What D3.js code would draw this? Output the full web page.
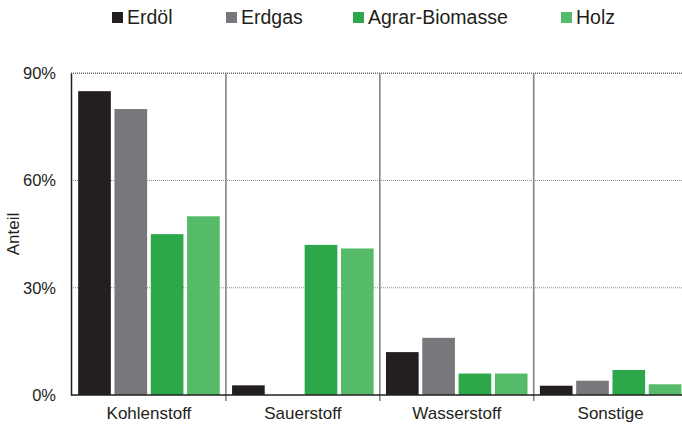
<!DOCTYPE html>
<html>
<head>
<meta charset="utf-8">
<script src="https://cdn.jsdelivr.net/npm/d3@7"></script>
<style>
  html, body { margin: 0; padding: 0; background: #fff; }
  svg { display: block; font-family: "Liberation Sans", Arial, sans-serif; }
</style>
</head>
<body>
<svg id="chart" width="682" height="425"></svg>
<script>
// Elemental composition of fuels (share by mass)
const categories = ["Kohlenstoff", "Sauerstoff", "Wasserstoff", "Sonstige"];
const seriesNames = ["Erdöl", "Erdgas", "Agrar-Biomasse", "Holz"];
const erdoel = [85, 2.7, 12, 2.6];
const erdgas = [80, 0, 16, 4];
const agrarBiomasse = [45, 42, 6, 7];
const holz = [50, 41, 6, 3];
const yTicks = [0, 30, 60, 90];
const yLabel = "Anteil";

const seriesValues = [erdoel, erdgas, agrarBiomasse, holz];
const colors = ["#231f20", "#77787b", "#2ca84a", "#55bb69"];

const svg = d3.select("#chart");

const plot = { left: 71, top: 73.3, bottom: 395, right: 682 };

const x0 = d3.scaleBand().domain(categories).range([72, 687.6]).padding(0);
const x1 = d3.scaleBand().domain(seriesNames).range([0, x0.bandwidth()])
  .paddingInner(0.1).paddingOuter(0.17);
const y = d3.scaleLinear().domain([0, 90]).range([plot.bottom, plot.top]);
const color = d3.scaleOrdinal().domain(seriesNames).range(colors);

// dotted gridlines
svg.append("g")
  .selectAll("line")
  .data(yTicks.filter(t => t > 0))
  .join("line")
  .attr("x1", plot.left).attr("x2", plot.right)
  .attr("y1", d => y(d)).attr("y2", d => y(d))
  .attr("stroke", d => d === 90 ? "#666" : "#8e8e8e")
  .attr("stroke-width", d => d === 90 ? 1.6 : 1)
  .attr("stroke-dasharray", "1,1");

// group separators
svg.append("g")
  .selectAll("line")
  .data(categories.slice(1))
  .join("line")
  .attr("x1", d => x0(d)).attr("x2", d => x0(d))
  .attr("y1", plot.top).attr("y2", plot.bottom + 6)
  .attr("stroke", "#858585")
  .attr("stroke-width", 1.6);

// bars
const rows = categories.map((c, i) => ({
  category: c,
  values: seriesNames.map((s, j) => ({ series: s, value: seriesValues[j][i] }))
}));

svg.append("g")
  .selectAll("g")
  .data(rows)
  .join("g")
  .attr("transform", d => `translate(${x0(d.category)},0)`)
  .selectAll("rect")
  .data(d => d.values.filter(v => v.value > 0))
  .join("rect")
  .attr("x", d => x1(d.series))
  .attr("width", x1.bandwidth())
  .attr("y", d => y(d.value))
  .attr("height", d => y(0) - y(d.value))
  .attr("fill", d => color(d.series));

// y axis
const yAxis = d3.axisLeft(y).tickValues(yTicks).tickFormat(d => d + "%").tickSize(0).tickPadding(15);
const gy = svg.append("g").attr("transform", `translate(${plot.left},0)`).call(yAxis);
gy.select(".domain").attr("stroke", "#231f20").attr("stroke-width", 1.5);
gy.selectAll("text").attr("font-size", 16.5).attr("fill", "#231f20")
  .attr("font-family", "Liberation Sans, Arial, sans-serif");

// x axis
const xAxis = d3.axisBottom(x0).tickSize(0).tickPadding(12);
const gx = svg.append("g").attr("transform", `translate(0,${plot.bottom})`).call(xAxis);
gx.select(".domain").remove();
gx.selectAll("text").attr("font-size", 17).attr("fill", "#231f20")
  .attr("font-family", "Liberation Sans, Arial, sans-serif");
svg.append("line")
  .attr("x1", plot.left).attr("x2", plot.right)
  .attr("y1", plot.bottom).attr("y2", plot.bottom)
  .attr("stroke", "#231f20").attr("stroke-width", 1.5);

// y axis title
svg.append("text")
  .attr("transform", `translate(19,234) rotate(-90)`)
  .attr("text-anchor", "middle")
  .attr("font-size", 17)
  .attr("fill", "#231f20")
  .text(yLabel);

// legend
const legendX = [112, 226, 353, 561];
const legend = svg.append("g")
  .selectAll("g")
  .data(seriesNames)
  .join("g")
  .attr("transform", (d, i) => `translate(${legendX[i]},0)`);
legend.append("rect")
  .attr("x", 0).attr("y", 12).attr("width", 11).attr("height", 11)
  .attr("fill", d => color(d));
legend.append("text")
  .attr("x", 15).attr("y", 24)
  .attr("font-size", 19.5)
  .attr("fill", "#231f20")
  .text(d => d);
</script>
</body>
</html>
